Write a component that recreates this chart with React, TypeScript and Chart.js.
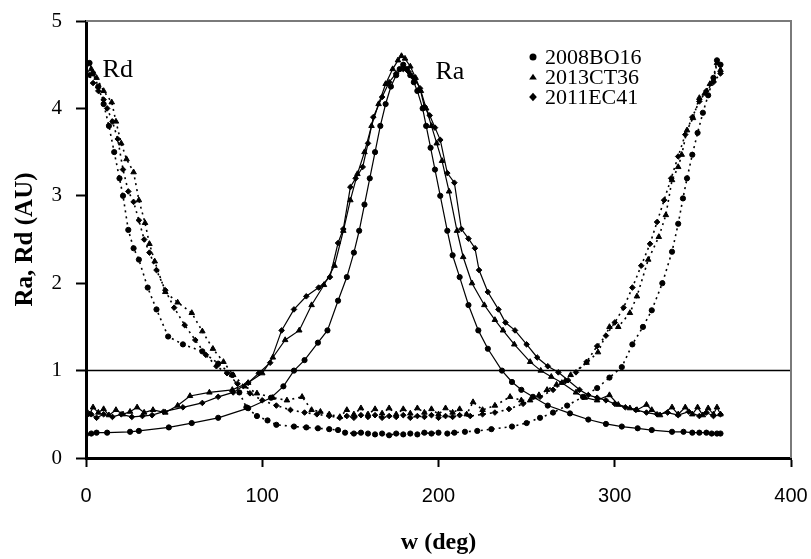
import React, { useEffect, useRef } from 'react';
import { Chart, registerables } from 'chart.js';
Chart.register(...registerables);

// ---------- data ----------
const xTickValues = [0, 100, 200, 300, 400];
const yTickValues = [0, 1, 2, 3, 4, 5];
const legendNames = ['2008BO16', '2013CT36', '2011EC41'];
const legendMarkers = ['circle', 'triangle', 'rectRot'];
const refLineX = [0, 400];
const refLineY = 1;
const rdLabelPos: [number, number] = [18, 4.44];
const raLabelPos: [number, number] = [206.5, 4.42];

// 2008BO16 (circles) — Ra solid
const bo16Ra: [number, number][] = [
  [0, 0.27], [3, 0.28], [6, 0.29], [12, 0.29], [25, 0.30], [30, 0.31], [47, 0.35], [60, 0.4], [75, 0.46], [92, 0.57],
  [105, 0.69], [112, 0.82], [118, 1.0], [124, 1.12], [131.6, 1.32], [137, 1.46], [143, 1.8], [148, 2.07], [152, 2.35], [155, 2.6],
  [158, 2.9], [161, 3.2], [164, 3.5], [167, 3.8], [170, 4.05], [173, 4.25], [176, 4.38], [178, 4.45], [180, 4.5], [182, 4.45],
  [184, 4.38], [186, 4.3], [188, 4.2], [191, 4.0], [193, 3.8], [195.5, 3.55], [198, 3.3], [201, 3.0], [205, 2.6], [208, 2.32],
  [212, 2.07], [217, 1.75], [222.6, 1.46], [228, 1.25], [236, 1.0], [241.7, 0.87], [247, 0.78], [253.6, 0.70], [262, 0.6], [274.6, 0.51],
  [285, 0.44], [295, 0.39], [304, 0.36], [313, 0.34], [321, 0.32], [332.5, 0.30], [339, 0.30], [344, 0.29], [348, 0.29], [352, 0.29],
  [355, 0.28], [358, 0.28], [360, 0.28],
];
// 2008BO16 — Rd dotted
const bo16Rd: [number, number][] = [
  [0, 4.5], [2, 4.52], [4, 4.4], [7, 4.25], [10, 4.05], [13, 3.8], [16, 3.5], [19, 3.2], [21, 3.0], [24, 2.61],
  [27, 2.4], [30, 2.27], [35, 1.95], [40, 1.7], [46.6, 1.39], [55, 1.3], [66, 1.22], [75, 1.08], [83, 0.95], [87, 0.75],
  [91, 0.58], [97, 0.48], [103, 0.43], [108, 0.38], [118, 0.36], [125, 0.35], [131.6, 0.34], [138, 0.33], [143, 0.32], [147, 0.29],
  [152, 0.28], [156, 0.29], [160, 0.28], [164, 0.27], [168, 0.28], [172, 0.26], [176, 0.28], [180, 0.27], [184, 0.28], [188, 0.27],
  [192, 0.29], [196, 0.28], [200, 0.29], [205, 0.28], [209, 0.29], [215, 0.3], [222, 0.31], [230, 0.33], [241.7, 0.36], [250, 0.4],
  [257.6, 0.46], [265, 0.52], [273, 0.6], [282, 0.7], [290, 0.8], [297, 0.92], [304, 1.04], [310, 1.3], [316, 1.5], [321, 1.69],
  [327, 2.0], [332.5, 2.36], [336, 2.68], [338.7, 2.97], [341, 3.2], [344, 3.47], [347, 3.72], [350, 3.95], [353, 4.15], [356, 4.35],
  [358, 4.55], [360, 4.5],
];
// 2013CT36 (triangles) — Ra solid
const ct36Ra: [number, number][] = [
  [0, 0.55], [2, 0.5], [4, 0.58], [7, 0.52], [10, 0.56], [13, 0.49], [17, 0.55], [21, 0.5], [25, 0.53], [29, 0.58],
  [33, 0.52], [38, 0.55], [45, 0.52], [52, 0.6], [59, 0.71], [70, 0.75], [83, 0.78], [92, 0.86], [100, 0.97], [106, 1.15],
  [113, 1.35], [121, 1.46], [128, 1.75], [135, 1.98], [141, 2.2], [146, 2.6], [150, 2.95], [154, 3.25], [158, 3.5], [162, 3.8],
  [166, 4.05], [170, 4.28], [174, 4.45], [177, 4.55], [179, 4.6], [181, 4.57], [184, 4.48], [187, 4.35], [190, 4.2], [193, 4.0],
  [196, 3.8], [199, 3.6], [202, 3.4], [206, 3.05], [210.5, 2.6], [214, 2.3], [219, 2.0], [226, 1.75], [232, 1.58], [236.6, 1.46],
  [243, 1.3], [252, 1.1], [258, 1.0], [264, 0.93], [270, 0.86], [278, 0.75], [283, 0.69], [290, 0.66], [297, 0.72], [302, 0.61],
  [308.6, 0.57], [312.6, 0.55], [318, 0.61], [321, 0.55], [325.7, 0.49], [332.5, 0.58], [336, 0.5], [340, 0.58], [344, 0.5], [347, 0.58],
  [350, 0.49], [353, 0.57], [356, 0.5], [358, 0.58], [360, 0.5],
];
// 2013CT36 — Rd dotted
const ct36Rd: [number, number][] = [
  [0, 4.52], [3, 4.45], [6, 4.35], [10, 4.2], [14.6, 4.07], [17, 3.85], [20, 3.6], [23, 3.42], [27, 3.27], [30, 2.95],
  [33.5, 2.69], [36, 2.45], [39, 2.25], [45, 1.9], [52, 1.78], [60, 1.66], [66, 1.45], [72, 1.25], [78, 1.1], [83.5, 0.95],
  [90, 0.82], [97, 0.74], [106, 0.69], [114, 0.66], [122.6, 0.70], [128, 0.55], [133, 0.53], [138, 0.5], [144, 0.47], [148, 0.55],
  [152, 0.5], [156, 0.57], [160, 0.5], [164, 0.56], [168, 0.51], [172, 0.57], [176, 0.5], [180, 0.56], [184, 0.51], [188, 0.57],
  [192, 0.52], [196, 0.56], [200, 0.5], [204, 0.57], [208, 0.52], [212, 0.56], [216, 0.5], [219.6, 0.64], [225, 0.55], [232, 0.6],
  [240.6, 0.70], [247, 0.66], [252, 0.66], [257, 0.72], [261.6, 0.78], [267, 0.84], [275, 0.95], [284, 1.09], [290.5, 1.21], [297, 1.5],
  [302, 1.5], [308.6, 1.66], [312.6, 1.85], [319, 2.27], [325, 2.53], [329, 2.78], [332.5, 3.18], [336, 3.33], [338, 3.47], [341, 3.75],
  [344.4, 3.89], [348, 4.12], [351, 4.17], [354, 4.28], [356, 4.32], [358, 4.52], [360, 4.44],
];
// 2011EC41 (diamonds) — Ra solid
const ec41Ra: [number, number][] = [
  [0, 0.48], [3, 0.5], [6, 0.46], [10, 0.5], [15, 0.47], [20, 0.5], [26, 0.47], [32, 0.48], [37.5, 0.49], [44, 0.53],
  [55, 0.58], [66, 0.63], [75, 0.7], [83.5, 0.75], [92, 0.86], [98, 0.97], [104.5, 1.09], [111, 1.46], [118, 1.7], [125, 1.85],
  [132, 1.95], [138.4, 2.07], [143, 2.46], [146, 2.62], [150, 3.1], [153, 3.2], [157, 3.33], [160, 3.6], [163, 3.9], [168, 4.13],
  [172, 4.3], [176, 4.4], [180, 4.45], [183, 4.42], [186, 4.35], [189.5, 4.23], [192, 4.02], [195, 3.92], [198, 3.78], [201, 3.64],
  [205, 3.26], [209, 3.15], [213, 2.62], [217, 2.51], [220.7, 2.4], [223, 2.15], [228, 1.9], [234, 1.7], [238, 1.55], [243.4, 1.46],
  [250, 1.3], [256, 1.15], [262, 1.05], [268, 0.98], [273.5, 0.89], [280, 0.78], [285, 0.72], [290, 0.69], [295, 0.66], [300, 0.62],
  [306, 0.58], [312, 0.55], [318, 0.52], [324, 0.5], [330, 0.52], [336, 0.49], [342, 0.53], [348, 0.48], [352, 0.52], [356, 0.48],
  [360, 0.5],
];
// 2011EC41 — Rd dotted
const ec41Rd: [number, number][] = [
  [0, 4.42], [2, 4.38], [4, 4.29], [7, 4.2], [10, 4.1], [12, 4.0], [15, 3.85], [18, 3.65], [21, 3.3], [24, 3.05],
  [27, 2.93], [30, 2.72], [33, 2.5], [36, 2.35], [40, 2.15], [45, 1.92], [50, 1.72], [56, 1.52], [62, 1.35], [68, 1.18],
  [74, 1.05], [80, 0.97], [86, 0.85], [93, 0.74], [100, 0.66], [108, 0.6], [116, 0.55], [124, 0.52], [131, 0.5], [138, 0.48],
  [144, 0.46], [148, 0.48], [152, 0.46], [156, 0.49], [160, 0.47], [164, 0.49], [168, 0.46], [172, 0.48], [176, 0.47], [180, 0.49],
  [184, 0.46], [188, 0.48], [192, 0.47], [196, 0.49], [200, 0.46], [204, 0.48], [208, 0.47], [212, 0.49], [218, 0.48], [225, 0.5],
  [232, 0.52], [240, 0.56], [248, 0.62], [257.6, 0.7], [265, 0.78], [272, 0.88], [278, 0.98], [284, 1.1], [290, 1.28], [295, 1.4],
  [300, 1.55], [305, 1.72], [310, 1.95], [315, 2.2], [320, 2.45], [324, 2.7], [328, 2.95], [332, 3.2], [336, 3.45], [340, 3.7],
  [344, 3.9], [348, 4.08], [352, 4.2], [356, 4.3], [360, 4.4],
];

const toXY = (arr: [number, number][]) => arr.map(([x, y]) => ({ x, y }));

function drawMarker(ctx: CanvasRenderingContext2D, style: string, cx: number, cy: number, r: number) {
  ctx.beginPath();
  if (style === 'circle') {
    ctx.arc(cx, cy, r, 0, Math.PI * 2);
  } else if (style === 'triangle') {
    const h = r * 1.6;
    ctx.moveTo(cx, cy - h * 0.6);
    ctx.lineTo(cx + r * 1.1, cy + h * 0.45);
    ctx.lineTo(cx - r * 1.1, cy + h * 0.45);
    ctx.closePath();
  } else {
    ctx.moveTo(cx, cy - r * 1.2);
    ctx.lineTo(cx + r * 1.1, cy);
    ctx.lineTo(cx, cy + r * 1.2);
    ctx.lineTo(cx - r * 1.1, cy);
    ctx.closePath();
  }
  ctx.fill();
}

const decorPlugin = {
  id: 'decor',
  afterDatasetsDraw(chart: any) {
    const { ctx, chartArea: a, scales } = chart;
    const xs = scales.x;
    const ys = scales.y;
    ctx.save();
    // gray frame top + right
    ctx.strokeStyle = '#7a7a7a';
    ctx.lineWidth = 2;
    ctx.beginPath();
    ctx.moveTo(a.left, a.top);
    ctx.lineTo(a.right, a.top);
    ctx.lineTo(a.right, a.bottom);
    ctx.stroke();
    // curve labels
    ctx.fillStyle = '#000';
    ctx.font = '26px "Liberation Serif", serif';
    ctx.textAlign = 'center';
    ctx.textBaseline = 'middle';
    ctx.fillText('Rd', xs.getPixelForValue(rdLabelPos[0]), ys.getPixelForValue(rdLabelPos[1]));
    ctx.fillText('Ra', xs.getPixelForValue(raLabelPos[0]), ys.getPixelForValue(raLabelPos[1]));
    // legend
    ctx.font = '22px "Liberation Serif", serif';
    ctx.textAlign = 'left';
    const mx = a.left + 447;
    legendNames.forEach((name, i) => {
      const cy = a.top + 36 + i * 20;
      drawMarker(ctx, legendMarkers[i], mx, cy, 3.5);
      ctx.fillText(name, mx + 12, cy + 1);
    });
    ctx.restore();
  },
};

function makeSeries(data: [number, number][], style: string, dotted: boolean, radius: number) {
  return {
    data: toXY(data),
    showLine: true,
    borderColor: '#000',
    backgroundColor: '#000',
    borderWidth: dotted ? 1.6 : 1.2,
    borderDash: dotted ? [2, 4] : [],
    pointStyle: style,
    pointRadius: radius,
    pointBorderWidth: 1,
    pointBorderColor: '#000',
    pointBackgroundColor: '#000',
    tension: 0,
  };
}

export default function App() {
  const ref = useRef<HTMLCanvasElement | null>(null);
  useEffect(() => {
    document.body.style.margin = '0';
    const canvas = ref.current;
    if (!canvas) return;
    const chart = new Chart(canvas, {
      type: 'scatter',
      data: {
        datasets: [
          {
            data: refLineX.map((x) => ({ x, y: refLineY })),
            showLine: true,
            borderColor: '#000',
            borderWidth: 1.5,
            pointRadius: 0,
          } as any,
          makeSeries(bo16Ra, 'circle', false, 2.6),
          makeSeries(ct36Ra, 'triangle', false, 3.2),
          makeSeries(ec41Ra, 'rectRot', false, 2.8),
          makeSeries(bo16Rd, 'circle', true, 2.6),
          makeSeries(ct36Rd, 'triangle', true, 3.2),
          makeSeries(ec41Rd, 'rectRot', true, 2.8),
        ],
      },
      options: {
        responsive: false,
        animation: false,
        devicePixelRatio: 1,
        layout: { padding: { top: 21, right: 20, left: 0, bottom: 0 } },
        plugins: { legend: { display: false }, tooltip: { enabled: false } },
        scales: {
          x: {
            type: 'linear',
            min: 0,
            max: 400,
            afterFit: (s: any) => { s.height = 101; s.paddingLeft = 0; s.paddingRight = 0; },
            afterBuildTicks: (s: any) => { s.ticks = xTickValues.map((v) => ({ value: v })); },
            ticks: {
              color: '#000',
              font: { family: '"Liberation Sans", sans-serif', size: 20 },
              padding: 17,
              maxRotation: 0,
            },
            grid: { drawOnChartArea: false, drawTicks: true, tickLength: 9, tickColor: '#000', tickWidth: 2 },
            border: { color: '#000', width: 3 },
            title: {
              display: true,
              text: 'w (deg)',
              color: '#000',
              font: { family: '"Liberation Serif", serif', size: 24, weight: 'bold' },
              padding: { top: 0, bottom: 2 },
            },
          },
          y: {
            type: 'linear',
            min: 0,
            max: 5,
            afterFit: (s: any) => { s.width = 86; s.paddingTop = 0; s.paddingBottom = 0; },
            afterBuildTicks: (s: any) => { s.ticks = yTickValues.map((v) => ({ value: v })); },
            ticks: {
              color: '#000',
              font: { family: '"Liberation Serif", serif', size: 21 },
              padding: 14,
            },
            grid: { drawOnChartArea: false, drawTicks: true, tickLength: 10, tickColor: '#000', tickWidth: 2 },
            border: { color: '#000', width: 3 },
            title: {
              display: true,
              text: 'Ra, Rd (AU)',
              color: '#000',
              font: { family: '"Liberation Serif", serif', size: 25, weight: 'bold' },
              padding: { top: 11, bottom: 0 },
            },
          },
        },
      },
      plugins: [decorPlugin],
    } as any);
    return () => chart.destroy();
  }, []);
  return (
    <div style={{ width: 811, height: 559, background: '#fff' }}>
      <canvas ref={ref} width={811} height={559} style={{ display: 'block' }} />
    </div>
  );
}
